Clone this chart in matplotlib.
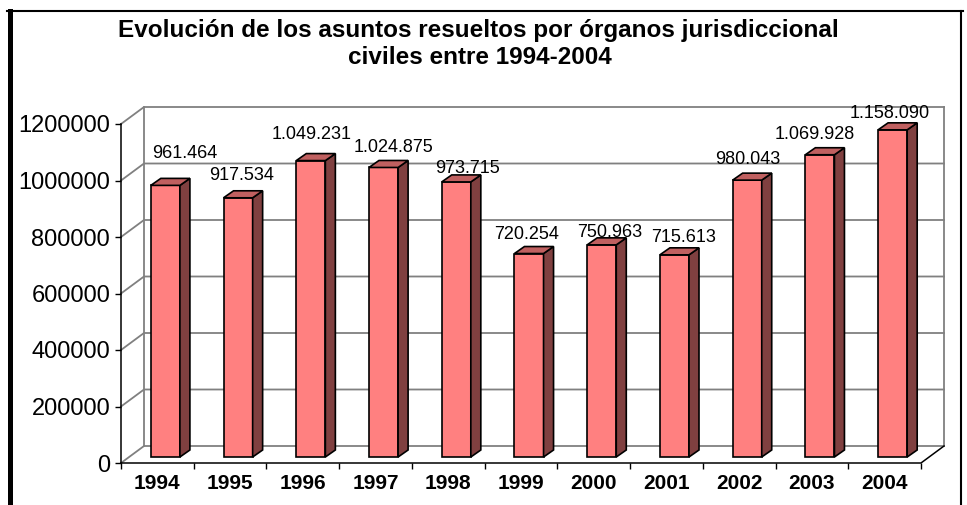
import matplotlib
matplotlib.use("Agg")
import matplotlib.pyplot as plt
from matplotlib.patches import Polygon
from matplotlib.lines import Line2D

# data
years = ["1994", "1995", "1996", "1997", "1998", "1999",
         "2000", "2001", "2002", "2003", "2004"]
resueltos = [961464, 917534, 1049231, 1024875, 973715, 720254,
             750963, 715613, 980043, 1069928, 1158090]
yticks = [0, 200000, 400000, 600000, 800000, 1000000, 1200000]

# label nudges (pixels) relative to the top of each bar, like the Excel original
lab_dx = [19, 3, 1, 10, 11, -2, 8, 9, 1, -5, -3]
lab_dy = [32, 22, 26, 20, 13, 19, 12, 17, 21, 20, 16]

W, H = 967, 505
plt.rcParams['font.family'] = ['Liberation Sans', 'DejaVu Sans']
fig = plt.figure(figsize=(W / 100, H / 100), dpi=100)

# front plane of the 3d box, in pixels
x0, y0, aw, ah = 121, 463, 800, 339
ax = fig.add_axes([x0 / W, (H - y0) / H, aw / W, ah / H])
n = len(years)
ymax = yticks[-1]
ax.set_xlim(0, n)
ax.set_ylim(0, ymax)

ux = n / aw      # data units per pixel
uy = ymax / ah

def px(dx, dy):
    return dx * ux, dy * uy

# depth offsets in pixels
back_dx, back_dy = px(23, 17)
bar_dx, bar_dy = px(8, 6)
dep_dx, dep_dy = px(10, 7)
grid_col = "#808080"

# walls and gridlines
for t in yticks:
    if t == 0:
        continue
    ax.plot([0, back_dx, n + back_dx], [t, t + back_dy, t + back_dy],
            color=grid_col, lw=1.3, clip_on=False, zorder=1)
ax.plot([0, back_dx, n + back_dx], [0, back_dy, back_dy],
        color=grid_col, lw=1.3, clip_on=False, zorder=1)
ax.plot([back_dx, back_dx], [back_dy, ymax + back_dy],
        color=grid_col, lw=1.3, clip_on=False, zorder=1)
ax.plot([n + back_dx, n + back_dx], [back_dy, ymax + back_dy],
        color=grid_col, lw=1.3, clip_on=False, zorder=1)
ax.plot([0, n, n + back_dx], [0, 0, back_dy],
        color="black", lw=1.1, clip_on=False, zorder=2)

# bars
bw = 0.4
for i, v in enumerate(resueltos):
    l = i + 0.5 - bw / 2 + bar_dx
    r = i + 0.5 + bw / 2 + bar_dx
    b = bar_dy
    t = v + bar_dy
    front = Polygon([(l, b), (r, b), (r, t), (l, t)], closed=True,
                    facecolor="#FF8080", edgecolor="black", lw=1.2,
                    clip_on=False, zorder=3)
    side = Polygon([(r, b), (r + dep_dx, b + dep_dy), (r + dep_dx, t + dep_dy), (r, t)],
                   closed=True, facecolor="#804040", edgecolor="black", lw=1.2,
                   clip_on=False, zorder=3)
    top = Polygon([(l, t), (r, t), (r + dep_dx, t + dep_dy), (l + dep_dx, t + dep_dy)],
                  closed=True, facecolor="#C06060", edgecolor="black", lw=1.2,
                  clip_on=False, zorder=3)
    for p in (front, side, top):
        ax.add_patch(p)
    lx, ly = px(lab_dx[i], lab_dy[i])
    ax.text((l + r) / 2 + lx, t + ly, f"{v:,}".replace(",", "."),
            ha="center", va="center", fontsize=13, zorder=5, clip_on=False)

# axes and ticks
for s in ("top", "right", "bottom"):
    ax.spines[s].set_visible(False)
ax.spines["left"].set_color("black")
ax.spines["left"].set_linewidth(1.1)
ax.set_yticks(yticks)
ax.set_yticklabels([str(t) for t in yticks], fontsize=17)
ax.tick_params(axis="y", length=4.3, width=1, pad=3.5)
ax.set_xticks(range(n + 1))
ax.set_xticklabels([])
ax.tick_params(axis="x", which="major", length=4.3, width=1)
ax.set_xticks([i + 0.5 for i in range(n)], minor=True)
ax.set_xticklabels(years, minor=True, fontsize=15, fontweight="bold")
ax.tick_params(axis="x", which="minor", length=0, pad=8)
ax.patch.set_visible(False)

# title
fig.text(478 / W, 1 - 30 / H, "Evolución de los asuntos resueltos por órganos jurisdiccional",
         ha="center", va="center", fontsize=17.5, fontweight="bold")
fig.text(480 / W, 1 - 58 / H, "civiles entre 1994-2004",
         ha="center", va="center", fontsize=17.5, fontweight="bold")

# chart area frame
def fline(xs, ys, lw):
    fig.add_artist(Line2D([x / W for x in xs], [1 - y / H for y in ys],
                          color="black", lw=lw, transform=fig.transFigure))

fline([9.5, 9.5], [11, H], 3.6)
fline([7, 963], [11, 11], 1.5)
fline([961, 961], [11, H], 1.5)

fig.savefig("out.png", dpi=100)
